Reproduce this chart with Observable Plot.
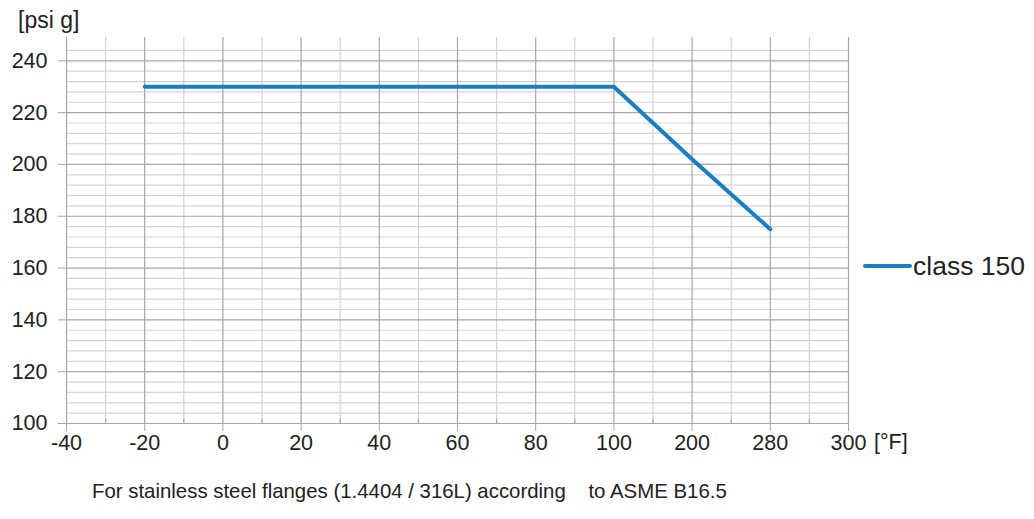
<!DOCTYPE html>
<html>
<head>
<meta charset="utf-8">
<script src="https://cdn.jsdelivr.net/npm/d3@7"></script>
<script src="https://cdn.jsdelivr.net/npm/@observablehq/plot@0.6"></script>
<style>
  body { margin: 0; background: #fff; font-family: "Liberation Sans", Arial, sans-serif; }
  #wrap { position: relative; width: 1034px; height: 519px; }
  #caption { position: absolute; left: 92px; top: 479px; font-size: 20.4px; line-height: 24px; color: #222; white-space: pre; }
</style>
</head>
<body>
<div id="wrap">
  <div id="chart"></div>
  <div id="caption">For stainless steel flanges (1.4404 / 316L) according    to ASME B16.5</div>
</div>
<script>
const categories = ["-40", "-20", "0", "20", "40", "60", "80", "100", "200", "280", "300"];
const pressure = [null, 230, 230, 230, 230, 230, 230, 230, 202, 175, null];
const yTicks = [100, 120, 140, 160, 180, 200, 220, 240];
const seriesName = "class 150";
const yUnit = "[psi g]";
const xUnit = "[°F]";

const lineColor = "#1a7fc1";
const data = categories.map((c, i) => ({i, c, v: pressure[i]})).filter(d => d.v != null);
const majorX = categories.map((c, i) => i);
const minorX = categories.slice(1).map((c, i) => i + 0.5);
const minorY = d3.range(104, 248, 4).filter(v => v % 20 !== 0);

const chart = Plot.plot({
  width: 1034,
  height: 470,
  marginLeft: 66,
  marginRight: 186,
  marginTop: 37,
  marginBottom: 47,
  style: {fontFamily: "Liberation Sans, Arial, sans-serif", fontSize: "21px", color: "#222", background: "#fff"},
  x: {type: "linear", domain: [0, categories.length - 1]},
  y: {type: "linear", domain: [100, 249]},
  marks: [
    Plot.ruleY(minorY, {stroke: "#d4d4d4", strokeWidth: 1.2}),
    Plot.ruleX(minorX, {stroke: "#d4d4d4", strokeWidth: 1.2}),
    Plot.ruleY(yTicks, {stroke: "#a6a6a6", strokeWidth: 1.2}),
    Plot.ruleX(majorX, {stroke: "#a6a6a6", strokeWidth: 1.2}),
    Plot.ruleX(minorX, {y1: 100, y2: 101.6, stroke: "#a6a6a6", strokeWidth: 1.2}),
    Plot.axisY({ticks: yTicks, tickSize: 8, tickPadding: 11, label: null, stroke: "#a6a6a6", fontSize: 21.5}),
    Plot.axisX({ticks: majorX, tickFormat: i => categories[i], tickSize: 8, tickPadding: 3, label: null, stroke: "#a6a6a6", fontSize: 21.5}),
    Plot.line(data, {x: "i", y: "v", stroke: lineColor, strokeWidth: 4, strokeLinecap: "round", strokeLinejoin: "round"})
  ]
});
document.getElementById("chart").appendChild(chart);

const svg = d3.select(chart);
svg.append("text").attr("x", 18).attr("y", 28).attr("text-anchor", "start").attr("font-size", 23).attr("fill", "#222").text(yUnit);
svg.append("text").attr("x", 874).attr("y", 449).attr("text-anchor", "start").attr("font-size", 21.5).attr("fill", "#222").text(xUnit);
svg.append("line").attr("x1", 865).attr("x2", 910).attr("y1", 266).attr("y2", 266)
  .attr("stroke", lineColor).attr("stroke-width", 4).attr("stroke-linecap", "round");
svg.append("text").attr("x", 913).attr("y", 275).attr("text-anchor", "start").attr("font-size", 26.5).attr("fill", "#222").text(seriesName);
</script>
</body>
</html>
